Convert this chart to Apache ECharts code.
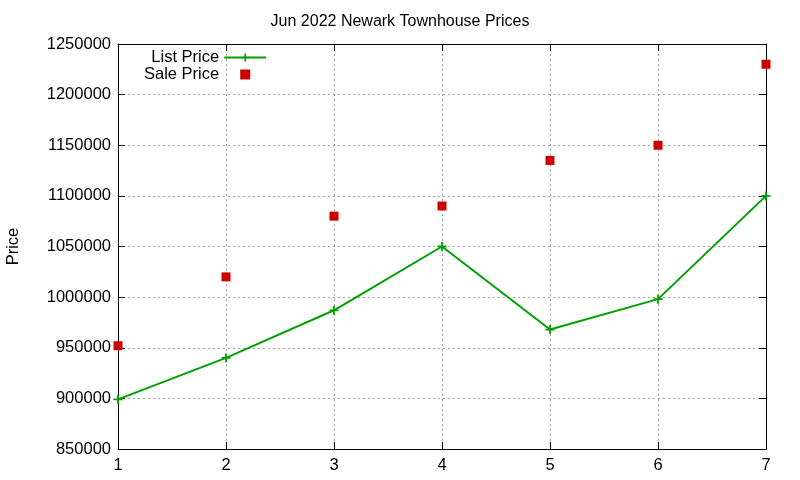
<!DOCTYPE html>
<html>
<head>
<meta charset="utf-8">
<script src="https://cdn.jsdelivr.net/npm/echarts@6/dist/echarts.min.js"></script>
<style>
  html, body { margin: 0; padding: 0; background: #fff; }
  #chart { width: 800px; height: 480px; }
</style>
</head>
<body>
<div id="chart"></div>
<script>
const days = [1, 2, 3, 4, 5, 6, 7]
const listPrice = [899000, 940000, 987000, 1050000, 968000, 998000, 1100000]
const salePrice = [952000, 1020000, 1080000, 1090000, 1135000, 1150000, 1230000]

const font = 'Liberation Sans, Arial, sans-serif'
const plus = 'path://M4,0H6V4H10V6H6V10H4V6H0V4H4Z'
const gridLine = { show: true, lineStyle: { color: '#a0a0a0', type: [2, 3], width: 1 } }

const chart = echarts.init(document.getElementById('chart'))

chart.setOption({
  animation: false,
  backgroundColor: '#fff',
  title: {
    text: 'Jun 2022 Newark Townhouse Prices',
    left: 'center',
    top: 9,
    textStyle: { fontFamily: font, fontSize: 16, fontWeight: 'normal', color: '#000' }
  },
  legend: {
    orient: 'vertical',
    left: 139,
    top: 44,
    align: 'right',
    itemWidth: 42,
    itemHeight: 10,
    itemGap: 0,
    textStyle: { fontFamily: font, fontSize: 16.5, lineHeight: 16, color: '#000', width: 72, align: 'right' },
    data: [
      { name: 'List Price' },
      { name: 'Sale Price', icon: 'path://M16,0H26V10H16Z' }
    ]
  },
  grid: { left: 118, right: 34, top: 44, bottom: 31, outerBoundsMode: 'none' },
  xAxis: [
    {
      type: 'value',
      min: 1,
      max: 7,
      interval: 1,
      axisLine: { show: true, lineStyle: { color: '#000', width: 1 } },
      axisTick: { show: true, inside: true, length: 7, lineStyle: { color: '#000' } },
      axisLabel: { fontFamily: font, fontSize: 16.5, color: '#000', margin: 8 },
      splitLine: gridLine
    },
    {
      type: 'value',
      position: 'top',
      min: 1,
      max: 7,
      interval: 1,
      axisLine: { show: true, lineStyle: { color: '#000', width: 1 } },
      axisTick: { show: true, inside: true, length: 7, lineStyle: { color: '#000' } },
      axisLabel: { show: false },
      splitLine: { show: false }
    }
  ],
  yAxis: [
    {
      type: 'value',
      min: 850000,
      max: 1250000,
      interval: 50000,
      name: 'Price',
      nameLocation: 'middle',
      nameGap: 96,
      nameTextStyle: { fontFamily: font, fontSize: 16.5, color: '#000' },
      axisLine: { show: true, lineStyle: { color: '#000', width: 1 } },
      axisTick: { show: true, inside: true, length: 7, lineStyle: { color: '#000' } },
      axisLabel: { fontFamily: font, fontSize: 16.5, color: '#000', margin: 7, formatter: v => String(v) },
      splitLine: gridLine
    },
    {
      type: 'value',
      position: 'right',
      min: 850000,
      max: 1250000,
      interval: 50000,
      axisLine: { show: true, lineStyle: { color: '#000', width: 1 } },
      axisTick: { show: true, inside: true, length: 7, lineStyle: { color: '#000' } },
      axisLabel: { show: false },
      splitLine: { show: false }
    }
  ],
  series: [
    {
      name: 'List Price',
      type: 'line',
      data: days.map((d, i) => [d, listPrice[i]]),
      symbol: plus,
      symbolSize: 9,
      showAllSymbol: true,
      color: '#00a000',
      lineStyle: { color: '#00a000', width: 2 },
      itemStyle: { color: '#00a000' },
      z: 3
    },
    {
      name: 'Sale Price',
      type: 'scatter',
      data: days.map((d, i) => [d, salePrice[i]]),
      symbol: 'rect',
      symbolSize: 9,
      color: '#cc0000',
      itemStyle: { color: '#cc0000', opacity: 1 },
      z: 4
    }
  ]
})
</script>
</body>
</html>
